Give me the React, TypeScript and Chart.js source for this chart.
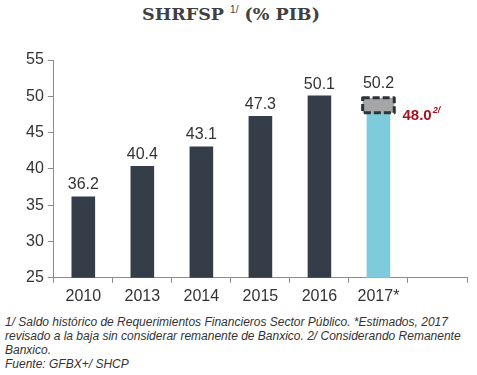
import React, { useEffect, useRef } from "react";
import { Chart, registerables } from "chart.js";

Chart.register(...registerables);

const categories = ["2010", "2013", "2014", "2015", "2016", "2017*", ""];
const baseValues = [36.2, 40.4, 43.1, 47.3, 50.1, 48.0, null];
const extraValues = [null, null, null, null, null, 2.2, null];
const topLabels = ["36.2", "40.4", "43.1", "47.3", "50.1", "50.2", ""];
const altLabel = "48.0";
const altSup = "2/";
const yTicks = [25, 30, 35, 40, 45, 50, 55];

const DARK = "#353d48";
const LIGHT = "#7ecbdd";
const GRAY = "#a6a6a6";

const labelPlugin = {
  id: "labels",
  afterDatasetsDraw(chart: any) {
    const ctx = chart.ctx;
    const m0 = chart.getDatasetMeta(0);
    const m1 = chart.getDatasetMeta(1);
    ctx.save();
    const e = m1.data[5];
    if (e && extraValues[5] != null) {
      const half = e.width / 2 + 4;
      const top = e.y + 3;
      const bottom = e.base + 2;
      ctx.beginPath();
      ctx.rect(e.x - half, top, half * 2, bottom - top);
      ctx.fillStyle = GRAY;
      ctx.fill();
      ctx.setLineDash([7, 3]);
      ctx.lineWidth = 3;
      ctx.strokeStyle = "#2c333b";
      ctx.lineJoin = "round";
      ctx.stroke();
      ctx.setLineDash([]);
    }
    ctx.font = "16px 'Liberation Sans', Arial, sans-serif";
    ctx.fillStyle = "#333";
    ctx.textAlign = "center";
    ctx.textBaseline = "alphabetic";
    topLabels.forEach((t, i) => {
      if (!t) return;
      const el = extraValues[i] != null ? m1.data[i] : m0.data[i];
      ctx.fillText(t, el.x, el.y - 7);
    });
    const b = m0.data[5];
    ctx.textAlign = "left";
    ctx.fillStyle = "#a3121f";
    ctx.font = "bold 15px 'Liberation Sans', Arial, sans-serif";
    const lx = b.x + 24;
    const ly = b.y + 9;
    ctx.fillText(altLabel, lx, ly);
    const w = ctx.measureText(altLabel).width;
    ctx.font = "bold italic 9px 'Liberation Sans', Arial, sans-serif";
    ctx.fillText(altSup, lx + w + 1, ly - 7);
    ctx.restore();
  },
};

export default function App() {
  const ref = useRef<HTMLCanvasElement>(null);
  useEffect(() => {
    document.body.style.margin = "0";
    const chart = new Chart(ref.current!, {
      type: "bar",
      data: {
        labels: categories,
        datasets: [
          {
            data: baseValues as any,
            backgroundColor: baseValues.map((_, i) => (i === 5 ? LIGHT : DARK)),
            barPercentage: 0.4,
            categoryPercentage: 1,
          },
          {
            data: extraValues as any,
            backgroundColor: "rgba(0,0,0,0)",
            barPercentage: 0.4,
            categoryPercentage: 1,
          },
        ],
      },
      options: {
        animation: false,
        responsive: false,
        layout: { padding: { left: 22, right: 10, top: 20, bottom: 0 } },
        plugins: {
          legend: { display: false },
          tooltip: { enabled: false },
          title: { display: false },
        },
        scales: {
          x: {
            stacked: true,
            grid: {
              display: true,
              drawOnChartArea: false,
              drawTicks: true,
              tickLength: 5,
              color: "#8c8c8c",
              offset: true,
            },
            border: { color: "#8c8c8c", width: 1 },
            ticks: {
              color: "#333",
              font: { family: "'Liberation Sans', Arial, sans-serif", size: 16 },
              padding: 4,
              maxRotation: 0,
              autoSkip: false,
            },
          },
          y: {
            stacked: true,
            min: 25,
            max: 55,
            afterBuildTicks(scale: any) {
              scale.ticks = yTicks.map((v) => ({ value: v }));
            },
            grid: {
              display: true,
              drawOnChartArea: false,
              drawTicks: true,
              tickLength: 6,
              color: "#8c8c8c",
            },
            border: { color: "#8c8c8c", width: 1 },
            ticks: {
              color: "#333",
              font: { family: "'Liberation Sans', Arial, sans-serif", size: 16 },
              padding: 4,
            },
          },
        },
      },
      plugins: [labelPlugin],
    });
    return () => chart.destroy();
  }, []);

  const noteStyle: React.CSSProperties = {
    position: "absolute",
    left: 5,
    top: 315,
    width: 472,
    fontFamily: "'Liberation Sans', Arial, sans-serif",
    fontStyle: "italic",
    fontSize: 12,
    lineHeight: "14px",
    color: "#333",
  };

  return (
    <div style={{ position: "relative", width: 477, height: 375, background: "#fff", overflow: "hidden" }}>
      <div
        style={{
          position: "absolute",
          top: 4,
          left: 0,
          width: 462,
          textAlign: "center",
          fontFamily: "'DejaVu Serif', 'Liberation Serif', serif",
          fontWeight: "bold",
          fontSize: 17.5,
          color: "#404040",
        }}
      >
        SHRFSP <sup style={{ fontSize: 10, fontWeight: "normal", fontFamily: "'Liberation Sans', Arial, sans-serif" }}>1/</sup> (% PIB)
      </div>
      <canvas ref={ref} width={477} height={270} style={{ position: "absolute", left: 0, top: 40 }} />
      <div style={noteStyle}>
        1/ Saldo histórico de Requerimientos Financieros Sector Público. *Estimados, 2017 revisado a la baja sin considerar remanente de Banxico. 2/ Considerando Remanente Banxico.
        <br />
        Fuente: GFBX+/ SHCP
      </div>
    </div>
  );
}
